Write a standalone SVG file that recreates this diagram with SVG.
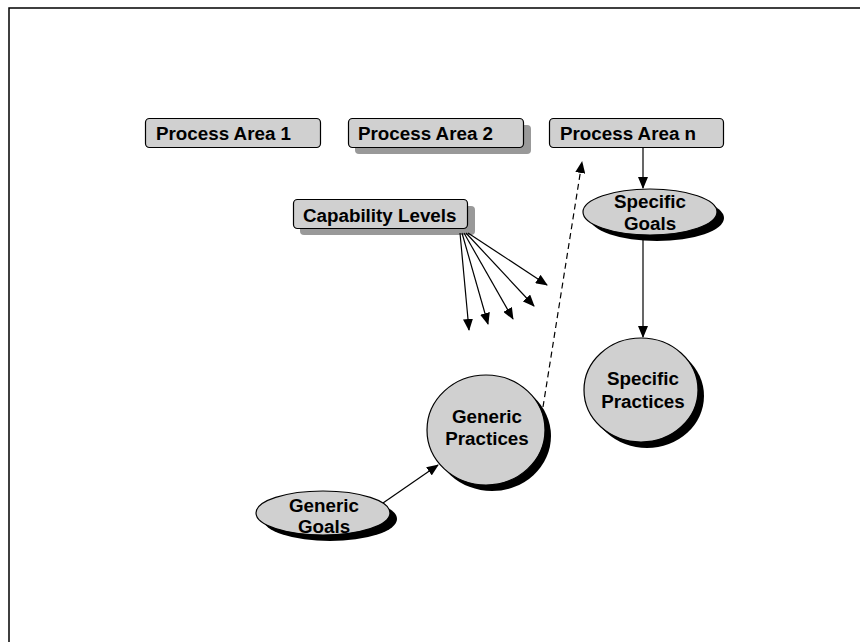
<svg xmlns="http://www.w3.org/2000/svg" width="860" height="642" viewBox="0 0 860 642">
<style>
.box{fill:#d0d0d0;stroke:#000;stroke-width:1.2}
.bshadow{fill:#999}
.ell{fill:#d0d0d0;stroke:#000;stroke-width:1.2}
.eshadow{fill:#000}
.t{font-family:"Liberation Sans",Arial,sans-serif;font-weight:bold;font-size:18.8px;fill:#000}
.c{text-anchor:middle}
.ln{stroke:#000;stroke-width:1.2;fill:none}
.dash{stroke-dasharray:6,4}
</style>
<defs>
<marker id="ah" markerWidth="12" markerHeight="10" refX="11" refY="5" orient="auto" markerUnits="userSpaceOnUse">
<path d="M0,0 L12,5 L0,10 Z" fill="#000"/>
</marker>
</defs>
<rect x="9" y="8" width="900" height="700" fill="none" stroke="#000" stroke-width="1.5"/>
<g id="pa1">
<rect class="box" x="145.5" y="118.5" width="175" height="29" rx="4"/>
<text class="t" x="156" y="139.5">Process Area 1</text>
</g>
<g id="pa2">
<rect class="bshadow" x="355" y="125" width="176" height="29" rx="4"/>
<rect class="box" x="348.5" y="118.5" width="175" height="29" rx="4"/>
<text class="t" x="358" y="139.5">Process Area 2</text>
</g>
<g id="pan">
<rect class="box" x="549.5" y="118.5" width="174" height="29" rx="4"/>
<text class="t" x="560" y="139.5">Process Area n</text>
</g>
<g id="cap">
<rect class="bshadow" x="300" y="206" width="175" height="29" rx="4"/>
<rect class="box" x="293.5" y="199.5" width="174" height="29" rx="4"/>
<text class="t" x="303" y="222">Capability Levels</text>
</g>
<g id="sg">
<ellipse class="eshadow" cx="657" cy="218" rx="67" ry="23"/>
<ellipse class="ell" cx="650" cy="212" rx="67" ry="23"/>
<text class="t c" x="650" y="208">Specific</text>
<text class="t c" x="650" y="230">Goals</text>
</g>
<g id="sp">
<ellipse class="eshadow" cx="647" cy="396" rx="57" ry="52"/>
<ellipse class="ell" cx="641" cy="390" rx="57" ry="52"/>
<text class="t c" x="643" y="385">Specific</text>
<text class="t c" x="643" y="408">Practices</text>
</g>
<g id="gp">
<ellipse class="eshadow" cx="492" cy="436" rx="59" ry="55"/>
<ellipse class="ell" cx="486" cy="430" rx="59" ry="55"/>
<text class="t c" x="487" y="423">Generic</text>
<text class="t c" x="487" y="445">Practices</text>
</g>
<g id="gg">
<ellipse class="eshadow" cx="330" cy="519" rx="67" ry="22"/>
<ellipse class="ell" cx="323" cy="513" rx="67" ry="22"/>
<text class="t c" x="324" y="512">Generic</text>
<text class="t c" x="324" y="533">Goals</text>
</g>
<g id="connectors">
<line class="ln" x1="643" y1="147" x2="643" y2="188" marker-end="url(#ah)"/>
<line class="ln" x1="643" y1="235" x2="643" y2="337" marker-end="url(#ah)"/>
<line class="ln" x1="383" y1="503" x2="438" y2="465" marker-end="url(#ah)"/>
<line class="ln dash" x1="543" y1="407" x2="582" y2="162" marker-end="url(#ah)"/>
<line class="ln" x1="460" y1="233" x2="469" y2="330" marker-end="url(#ah)"/>
<line class="ln" x1="462" y1="233" x2="488" y2="324" marker-end="url(#ah)"/>
<line class="ln" x1="464" y1="233" x2="513" y2="319" marker-end="url(#ah)"/>
<line class="ln" x1="466" y1="233" x2="534" y2="306" marker-end="url(#ah)"/>
<line class="ln" x1="468" y1="233" x2="547" y2="285" marker-end="url(#ah)"/>
</g>
</svg>
